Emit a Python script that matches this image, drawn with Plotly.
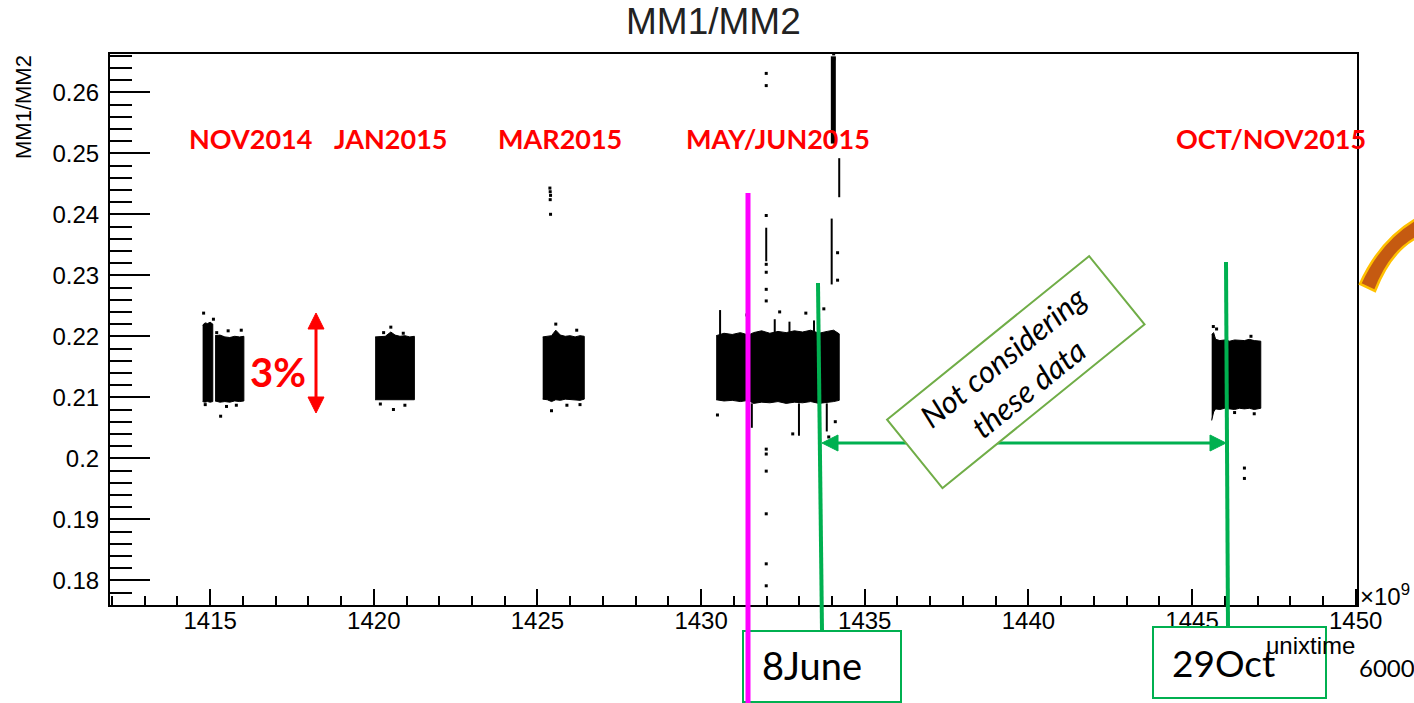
import plotly.graph_objects as go

# ---------------- data (unixtime in units of 1e9 s, ratio MM1/MM2) ----------------
nov14a_t  = [1414.77, 1414.84, 1414.92, 1415.00, 1415.08]
nov14a_hi = [0.2218, 0.2222, 0.2221, 0.2223, 0.2220]
nov14a_lo = [0.2093, 0.2092, 0.2093, 0.2092, 0.2093]

nov14b_t  = [1415.15, 1415.30, 1415.45, 1415.60, 1415.75, 1415.90, 1416.03]
nov14b_hi = [0.2201, 0.2202, 0.2199, 0.2198, 0.2200, 0.2199, 0.2200]
nov14b_lo = [0.2094, 0.2092, 0.2093, 0.2092, 0.2094, 0.2093, 0.2094]

jan15_t  = [1420.04, 1420.20, 1420.35, 1420.52, 1420.65, 1420.80, 1420.95, 1421.10, 1421.24]
jan15_hi = [0.2199, 0.2200, 0.2200, 0.2207, 0.2202, 0.2200, 0.2201, 0.2199, 0.2200]
jan15_lo = [0.2096, 0.2095, 0.2096, 0.2095, 0.2095, 0.2096, 0.2095, 0.2096, 0.2096]

mar15_t  = [1425.16, 1425.30, 1425.43, 1425.56, 1425.70, 1425.85, 1426.00, 1426.15, 1426.30, 1426.43]
mar15_hi = [0.2199, 0.2200, 0.2201, 0.2210, 0.2202, 0.2200, 0.2201, 0.2199, 0.2201, 0.2200]
mar15_lo = [0.2097, 0.2096, 0.2093, 0.2096, 0.2095, 0.2097, 0.2096, 0.2096, 0.2095, 0.2097]

mayjun15_t  = [1430.46, 1430.70, 1430.95, 1431.20, 1431.45, 1431.60, 1431.85, 1432.10,
               1432.35, 1432.60, 1432.85, 1433.10, 1433.35, 1433.60, 1433.85, 1434.05, 1434.22]
mayjun15_hi = [0.2201, 0.2205, 0.2203, 0.2206, 0.2202, 0.2206, 0.2209, 0.2205,
               0.2208, 0.2206, 0.2209, 0.2207, 0.2210, 0.2205, 0.2208, 0.2210, 0.2204]
mayjun15_lo = [0.2096, 0.2094, 0.2095, 0.2093, 0.2095, 0.2090, 0.2092, 0.2091,
               0.2093, 0.2090, 0.2092, 0.2091, 0.2093, 0.2090, 0.2092, 0.2093, 0.2095]

octnov15_t  = [1445.60, 1445.66, 1445.72, 1445.85, 1446.00, 1446.15, 1446.30, 1446.45, 1446.60,
               1446.75, 1446.90, 1447.10]
octnov15_hi = [0.2203, 0.2206, 0.2195, 0.2193, 0.2194, 0.2192, 0.2194, 0.2193, 0.2193,
               0.2195, 0.2193, 0.2192]
octnov15_lo = [0.2062, 0.2076, 0.2081, 0.2080, 0.2082, 0.2081, 0.2080, 0.2082, 0.2081,
               0.2082, 0.2080, 0.2082]

# isolated points
outlier_t = [1414.80, 1415.32, 1415.55, 1415.95, 1415.20, 1415.50, 1415.80, 1414.85, 1415.10,
             1420.52, 1420.30, 1420.90, 1420.60, 1420.95, 1420.20,
             1425.38, 1425.39, 1425.40, 1425.39, 1425.40, 1425.43, 1425.56, 1426.20, 1425.90, 1426.30,
             1431.99, 1431.99, 1431.99, 1431.99, 1431.99, 1431.99, 1431.99, 1431.99, 1431.99,
             1431.99, 1431.99, 1431.99, 1431.99,
             1430.50, 1432.80, 1433.90, 1434.10, 1431.40, 1432.40, 1433.20, 1433.75,
             1434.05, 1434.06, 1434.17, 1434.17,
             1446.60, 1446.60, 1445.65, 1445.75, 1446.80, 1446.30, 1446.90]
outlier_v = [0.2238, 0.2069, 0.2209, 0.2210, 0.2206, 0.2085, 0.2087, 0.2088, 0.2228,
             0.2215, 0.2206, 0.2205, 0.2080, 0.2087, 0.2089,
             0.2443, 0.2437, 0.2431, 0.2424, 0.2400, 0.2078, 0.2220, 0.2210, 0.2087, 0.2088,
             0.2631, 0.2611, 0.2398, 0.2318, 0.2305, 0.2277, 0.2258, 0.2015, 0.2007,
             0.1979, 0.1909, 0.1827, 0.1791,
             0.2071, 0.2040, 0.2035, 0.2060, 0.2235, 0.2240, 0.2238, 0.2245,
             0.2663, 0.2655, 0.2337, 0.2292,
             0.1984, 0.1967, 0.2216, 0.2212, 0.2200, 0.2075, 0.2073]

# vertical streaks of points
streak_t  = [1431.99, 1433.99, 1434.22, 1432.99, 1433.84, 1431.55, 1430.58, 1432.25, 1432.70, 1433.45]
streak_lo = [0.2323, 0.2285, 0.2428, 0.2037, 0.2044, 0.2050, 0.2200, 0.2205, 0.2205, 0.2205]
streak_hi = [0.2378, 0.2393, 0.2492, 0.2090, 0.2090, 0.2090, 0.2243, 0.2228, 0.2224, 0.2226]
spike_t  = [1434.04]
spike_lo = [0.2516]
spike_hi = [0.2659]

x_tick_vals = [1415, 1420, 1425, 1430, 1435, 1440, 1445, 1450]
x_tick_text = ["1415", "1420", "1425", "1430", "1435", "1440", "1445", "1450"]
y_tick_vals = [0.18, 0.19, 0.20, 0.21, 0.22, 0.23, 0.24, 0.25, 0.26]
y_tick_text = ["0.18", "0.19", "0.2", "0.21", "0.22", "0.23", "0.24", "0.25", "0.26"]

period_labels = ["NOV2014", "JAN2015", "MAR2015", "MAY/JUN2015", "OCT/NOV2015"]
period_label_t = [1416.22, 1420.53, 1425.69, 1432.35, 1447.41]
period_label_v = 0.2525

X_RANGE = [1411.94, 1450.04]
Y_RANGE = [0.17595, 0.26628]

# ---------------- figure ----------------
L, T, W, H = 110, 54, 1247, 551


def fx(p):
    return (p - L) / W


def fy(p):
    return (T + H - p) / H


fig = go.Figure()

blocks = [(nov14a_t, nov14a_hi, nov14a_lo), (nov14b_t, nov14b_hi, nov14b_lo),
          (jan15_t, jan15_hi, jan15_lo), (mar15_t, mar15_hi, mar15_lo),
          (mayjun15_t, mayjun15_hi, mayjun15_lo), (octnov15_t, octnov15_hi, octnov15_lo)]
for t, hi, lo in blocks:
    fig.add_trace(go.Scatter(x=t + t[::-1], y=hi + lo[::-1], mode="lines", fill="toself",
                             fillcolor="black", line=dict(color="black", width=1),
                             hoverinfo="skip", showlegend=False))


def seg_xy(ts, los, his):
    xs, ys = [], []
    for t, a, b in zip(ts, los, his):
        xs += [t, t, None]
        ys += [a, b, None]
    return xs, ys


sx, sy = seg_xy(streak_t, streak_lo, streak_hi)
fig.add_trace(go.Scatter(x=sx, y=sy, mode="lines", line=dict(color="black", width=2),
                         hoverinfo="skip", showlegend=False))
kx, ky = seg_xy(spike_t, spike_lo, spike_hi)
fig.add_trace(go.Scatter(x=kx, y=ky, mode="lines", line=dict(color="black", width=5),
                         hoverinfo="skip", showlegend=False))
fig.add_trace(go.Scatter(x=outlier_t, y=outlier_v, mode="markers",
                         marker=dict(symbol="square", size=3, color="black"),
                         hoverinfo="skip", showlegend=False))

GREEN = "#00B050"
RED = "#FF0000"


def tri(ax_, ay_, bx1, by1, bx2, by2, color):
    return dict(type="path", xref="paper", yref="paper",
                path=(f"M {fx(ax_)},{fy(ay_)} L {fx(bx1)},{fy(by1)} "
                      f"L {fx(bx2)},{fy(by2)} Z"),
                fillcolor=color, line=dict(color=color, width=1))


shapes = [
    dict(type="rect", xref="paper", yref="paper", x0=fx(743), x1=fx(901), y0=fy(702), y1=fy(631),
         fillcolor="white", line=dict(color=GREEN, width=2)),
    dict(type="rect", xref="paper", yref="paper", x0=fx(1153), x1=fx(1326), y0=fy(698), y1=fy(627),
         fillcolor="white", line=dict(color=GREEN, width=2)),
    dict(type="line", xref="paper", yref="paper", x0=fx(748), x1=fx(748), y0=fy(193), y1=fy(704),
         line=dict(color="#FF00FF", width=5)),
    dict(type="line", xref="paper", yref="paper", x0=fx(818), x1=fx(822), y0=fy(283), y1=fy(631),
         line=dict(color=GREEN, width=4)),
    dict(type="line", xref="paper", yref="paper", x0=fx(1226), x1=fx(1228), y0=fy(262), y1=fy(627),
         line=dict(color=GREEN, width=4)),
    # red double arrow
    dict(type="line", xref="paper", yref="paper", x0=fx(316), x1=fx(316), y0=fy(326), y1=fy(400),
         line=dict(color=RED, width=3)),
    tri(316, 313, 308, 329, 324, 329, RED),
    tri(316, 413, 308, 397, 324, 397, RED),
    # green double arrow
    dict(type="line", xref="paper", yref="paper", x0=fx(834), x1=fx(1214), y0=fy(443), y1=fy(443),
         line=dict(color=GREEN, width=3)),
    tri(822, 443, 838, 435, 838, 451, GREEN),
    tri(1226, 443, 1210, 435, 1210, 451, GREEN),
    # curved arrow fragment at right edge
    dict(type="path", xref="paper", yref="paper",
         path=(f"M {fx(1360)},{fy(284)} Q {fx(1380)},{fy(240)} {fx(1416)},{fy(219)} "
               f"L {fx(1416)},{fy(238)} Q {fx(1390)},{fy(252)} {fx(1375)},{fy(291)} Z"),
         fillcolor="#C55A11", line=dict(color="#FFC000", width=2.5)),
]

annotations = [
    dict(xref="paper", yref="paper", x=fx(713), y=fy(22), text="MM1/MM2", showarrow=False,
         font=dict(family="Liberation Sans", size=37, color="#222222"),
         xanchor="center", yanchor="middle"),
    dict(xref="paper", yref="paper", x=fx(23), y=fy(53), text="MM1/MM2", showarrow=False,
         textangle=-90, font=dict(family="Liberation Sans", size=22, color="black"),
         xanchor="center", yanchor="top"),
    dict(xref="paper", yref="paper", x=fx(1357), y=fy(645), text="unixtime", showarrow=False,
         font=dict(family="Liberation Sans", size=24, color="black"),
         xanchor="right", yanchor="middle"),
    dict(xref="paper", yref="paper", x=fx(1358), y=fy(595), text="×10<sup>9</sup>", showarrow=False,
         font=dict(family="Liberation Sans", size=24, color="black"),
         xanchor="left", yanchor="middle"),
    dict(xref="paper", yref="paper", x=fx(1357), y=fy(667), text="6000", showarrow=False,
         font=dict(family="Lato", size=24, color="black"), xanchor="left", yanchor="middle"),
    dict(xref="paper", yref="paper", x=fx(812), y=fy(665), text="8June", showarrow=False,
         font=dict(family="Lato", size=38, color="black"), xanchor="center", yanchor="middle"),
    dict(xref="paper", yref="paper", x=fx(1223), y=fy(663), text="29Oct", showarrow=False,
         font=dict(family="Lato", size=37, color="black"), xanchor="center", yanchor="middle"),
]

for lab, t in zip(period_labels, period_label_t):
    annotations.append(dict(x=t, y=period_label_v, xref="x", yref="y", text=lab, showarrow=False,
                            font=dict(family="Lato", size=27, color=RED, weight="bold"),
                            xanchor="center", yanchor="middle"))

annotations += [
    dict(x=1417.07, y=0.2141, xref="x", yref="y", text="3%", showarrow=False,
         font=dict(family="Lato", size=40, color=RED, weight="bold"),
         xanchor="center", yanchor="middle"),
    # rotated note box
    dict(x=1439.62, y=0.2141, xref="x", yref="y", text="Not considering<br>these data",
         showarrow=False, textangle=-39, align="center",
         font=dict(family="Lato", size=31, color="black", style="italic"),
         bgcolor="white", bordercolor="#70AD47", borderwidth=2, borderpad=2,
         width=254, height=82, xanchor="center", yanchor="middle"),
]

axis_font = dict(family="Liberation Sans", size=24, color="black")
fig.update_layout(
    width=1414, height=703,
    margin=dict(l=L, r=1414 - L - W, t=T, b=703 - T - H),
    paper_bgcolor="white", plot_bgcolor="white",
    showlegend=False,
    shapes=shapes, annotations=annotations,
    xaxis=dict(range=X_RANGE, showgrid=False, zeroline=False, showline=True,
               linecolor="black", linewidth=2, mirror=True,
               tickmode="array", tickvals=x_tick_vals, ticktext=x_tick_text,
               ticks="inside", ticklen=16, tickwidth=1.5, tickcolor="black",
               tickfont=axis_font, ticklabelstandoff=-7,
               minor=dict(ticks="inside", ticklen=9, tickwidth=1.5, tickcolor="black",
                          tickmode="linear", tick0=1415, dtick=1, showgrid=False)),
    yaxis=dict(range=Y_RANGE, showgrid=False, zeroline=False, showline=True,
               linecolor="black", linewidth=2, mirror=True,
               tickmode="array", tickvals=y_tick_vals, ticktext=y_tick_text,
               ticks="inside", ticklen=40, tickwidth=1.5, tickcolor="black",
               tickfont=axis_font, ticklabelstandoff=4,
               minor=dict(ticks="inside", ticklen=22, tickwidth=1.5, tickcolor="black",
                          tickmode="linear", tick0=0.18, dtick=0.002, showgrid=False)),
)

fig.write_html("out.html", config={"displayModeBar": False},
               post_script="document.body.style.margin='0px';document.body.style.overflow='hidden';")
